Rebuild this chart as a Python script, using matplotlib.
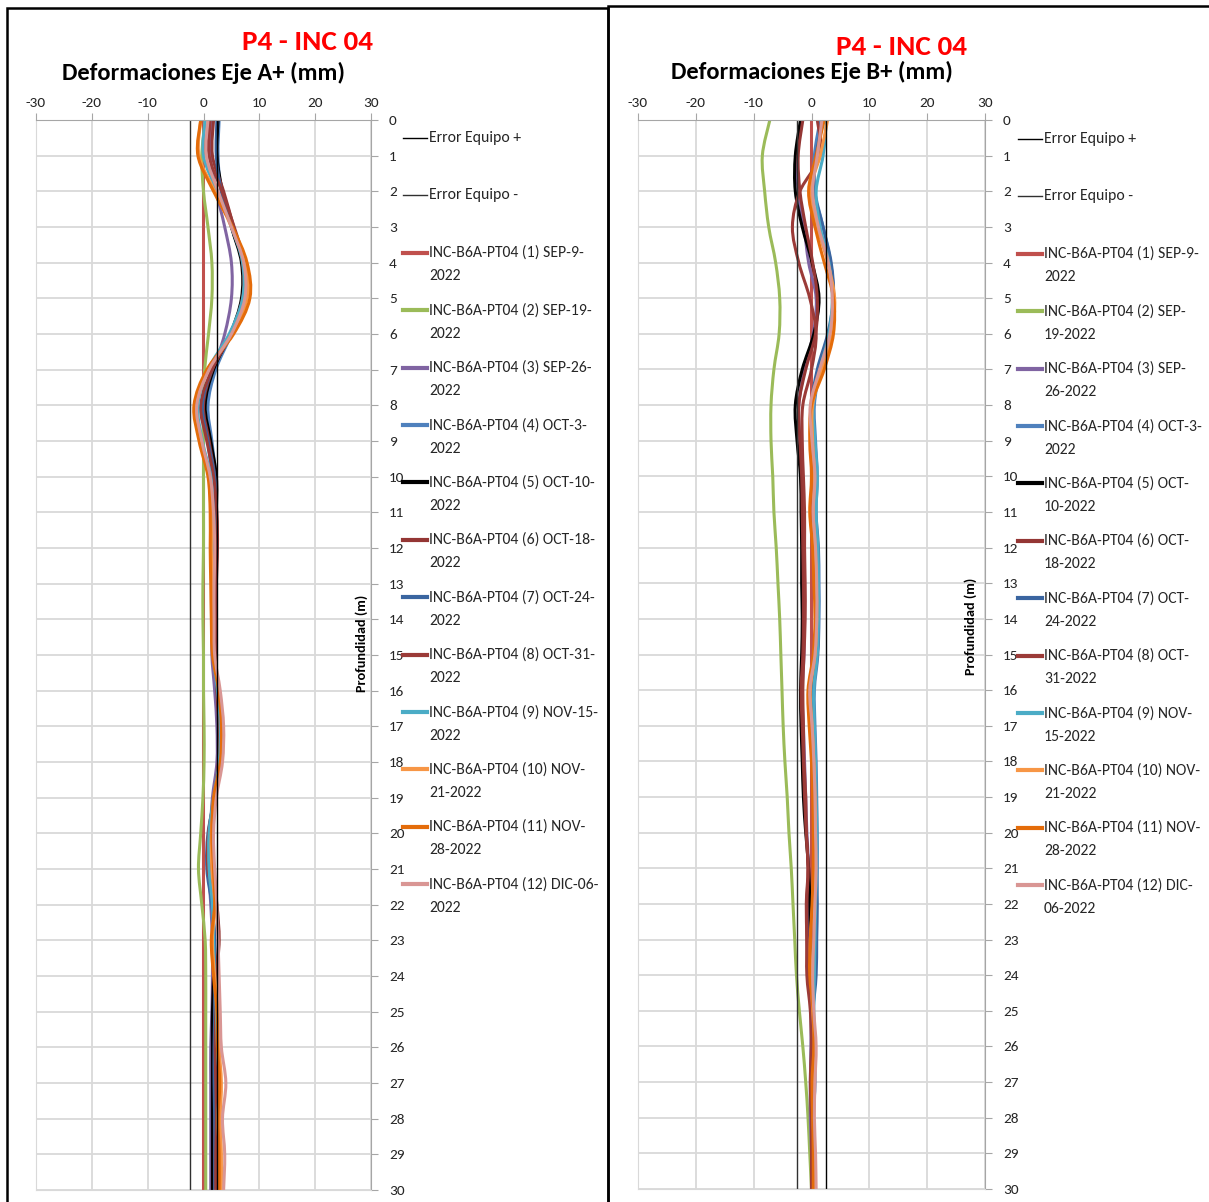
import matplotlib
matplotlib.use('Agg')
import matplotlib.pyplot as plt
from matplotlib import font_manager
from matplotlib.path import Path
from matplotlib.patches import PathPatch, Rectangle
from matplotlib.lines import Line2D

installed = {f.name for f in font_manager.fontManager.ttflist}
family = 'DejaVu Sans'
for cand in ['Carlito', 'Liberation Sans Narrow', 'DejaVu Sans Condensed', 'Lato']:
    if cand in installed:
        family = cand
        break
plt.rcParams['font.family'] = [family, 'DejaVu Sans']
plt.rcParams['axes.unicode_minus'] = False

W, H = 1209, 1202

# ---- data -------------------------------------------------------------
depth = list(range(31))
error_plus = 2.5
error_minus = -2.5

labels_a = ['INC-B6A-PT04 (1) SEP-9-\n2022', 'INC-B6A-PT04 (2) SEP-19-\n2022',
            'INC-B6A-PT04 (3) SEP-26-\n2022', 'INC-B6A-PT04 (4) OCT-3-\n2022',
            'INC-B6A-PT04 (5) OCT-10-\n2022', 'INC-B6A-PT04 (6) OCT-18-\n2022',
            'INC-B6A-PT04 (7) OCT-24-\n2022', 'INC-B6A-PT04 (8) OCT-31-\n2022',
            'INC-B6A-PT04 (9) NOV-15-\n2022', 'INC-B6A-PT04 (10) NOV-\n21-2022',
            'INC-B6A-PT04 (11) NOV-\n28-2022', 'INC-B6A-PT04 (12) DIC-06-\n2022']
labels_b = ['INC-B6A-PT04 (1) SEP-9-\n2022', 'INC-B6A-PT04 (2) SEP-\n19-2022',
            'INC-B6A-PT04 (3) SEP-\n26-2022', 'INC-B6A-PT04 (4) OCT-3-\n2022',
            'INC-B6A-PT04 (5) OCT-\n10-2022', 'INC-B6A-PT04 (6) OCT-\n18-2022',
            'INC-B6A-PT04 (7) OCT-\n24-2022', 'INC-B6A-PT04 (8) OCT-\n31-2022',
            'INC-B6A-PT04 (9) NOV-\n15-2022', 'INC-B6A-PT04 (10) NOV-\n21-2022',
            'INC-B6A-PT04 (11) NOV-\n28-2022', 'INC-B6A-PT04 (12) DIC-\n06-2022']

colors = ['#C0504D', '#9BBB59', '#8064A2', '#4F81BD', '#000000', '#943634',
          '#3A65A0', '#9B3B38', '#4BACC6', '#F79646', '#E46C0A', '#D99694']

# Eje A+ (mm), one value per metre of depth
a1 = [0.0] * 31
a2 = [0.3, -0.3, 0.0, 0.8, 1.5, 1.5, 0.9, 0.2, -0.1, 0.0, 0.0, 0.0, 0.0, -0.1, -0.1, 0.0,
      0.0, 0.1, 0.1, -0.1, -0.5, -0.9, -0.3, 0.3, 0.4, 0.4, 0.4, 0.4, 0.4, 0.4, 0.4]
a3 = [1.5, 1.2, 2.3, 3.8, 5.0, 5.0, 3.8, 1.8, 0.3, 0.8, 1.5, 1.6, 1.5, 1.5, 1.5, 1.5,
      2.0, 2.4, 2.4, 1.6, 1.2, 1.0, 1.3, 1.6, 1.6, 1.5, 1.3, 1.3, 1.3, 1.3, 1.3]
a4 = [2.8, 2.6, 3.2, 5.0, 7.0, 7.3, 5.0, 2.2, 0.8, 1.5, 2.2, 2.3, 2.2, 2.0, 2.0, 2.1,
      2.6, 3.0, 3.0, 2.0, 1.0, 0.8, 1.5, 2.0, 2.1, 2.2, 2.2, 2.3, 2.4, 2.4, 2.5]
a5 = [2.6, 2.4, 3.4, 5.0, 6.8, 6.8, 4.8, 1.8, 0.3, 1.3, 2.3, 2.3, 2.0, 2.0, 2.0, 2.0,
      2.5, 2.8, 2.8, 2.0, 1.6, 1.6, 1.8, 1.8, 1.8, 1.6, 1.6, 1.6, 1.6, 1.6, 1.6]
a6 = [1.8, 1.6, 3.6, 5.4, 7.0, 7.0, 4.8, 1.6, 0.0, 1.0, 2.0, 2.2, 2.4, 2.2, 2.2, 2.2,
      2.4, 2.8, 2.7, 2.0, 1.2, 1.5, 2.4, 2.8, 2.3, 2.0, 2.0, 2.0, 2.0, 2.0, 2.0]
a7 = [2.4, 2.3, 3.2, 5.2, 7.2, 7.2, 4.8, 1.5, -0.2, 0.8, 2.0, 2.2, 2.0, 2.0, 2.0, 2.0,
      2.5, 2.9, 2.9, 2.0, 0.8, 0.6, 1.5, 2.0, 2.0, 2.0, 1.9, 1.9, 2.0, 2.0, 2.0]
a8 = [1.2, 1.0, 3.3, 5.5, 7.3, 7.3, 5.0, 1.5, -0.5, 0.6, 1.8, 2.4, 2.5, 2.3, 2.2, 2.1,
      2.5, 2.7, 2.7, 1.9, 0.9, 0.8, 2.2, 2.7, 2.2, 2.2, 2.1, 2.2, 2.3, 2.2, 2.2]
a9 = [0.3, 0.0, 2.4, 5.0, 7.0, 7.0, 4.6, 0.8, -1.0, -0.2, 1.3, 1.6, 1.5, 1.5, 1.6, 1.7,
      2.5, 3.0, 2.8, 1.8, 1.0, 1.0, 1.6, 1.8, 2.0, 2.3, 2.5, 2.8, 2.6, 2.8, 2.8]
a10 = [-0.5, -0.8, 2.0, 5.0, 7.5, 7.8, 5.2, 0.8, -1.5, -0.6, 1.0, 1.4, 1.4, 1.5, 1.6, 1.8,
       2.8, 3.4, 3.2, 2.0, 1.4, 1.5, 2.0, 1.6, 2.0, 2.6, 2.8, 3.2, 3.0, 3.2, 3.2]
a11 = [-0.5, -1.0, 1.8, 5.2, 7.8, 8.3, 5.4, 0.6, -1.7, -0.8, 0.8, 1.2, 1.2, 1.3, 1.4, 1.6,
       2.7, 3.2, 3.0, 1.8, 1.5, 1.8, 2.0, 1.4, 1.8, 2.4, 2.5, 2.9, 2.6, 2.8, 2.8]
a12 = [0.8, 0.5, 2.6, 5.0, 7.2, 7.4, 5.0, 1.0, -1.2, -0.3, 1.2, 1.8, 2.0, 1.9, 1.9, 2.0,
       3.0, 3.6, 3.4, 2.3, 1.8, 2.0, 2.4, 2.6, 2.8, 3.0, 3.2, 4.0, 3.4, 3.8, 3.6]

# Eje B+ (mm)
b1 = [0.0] * 31
b2 = [-7.2, -8.5, -8.1, -7.4, -6.2, -5.5, -5.6, -6.5, -7.0, -7.0, -6.7, -6.5, -6.1, -5.8,
      -5.5, -5.3, -5.1, -4.9, -4.6, -4.2, -3.9, -3.5, -3.2, -2.9, -2.6, -2.1, -1.5, -1.0,
      -0.6, -0.3, 0.0]
b3 = [-1.8, -2.5, -2.3, -1.3, -0.5, 0.8, 0.3, -1.2, -2.2, -2.0, -1.6, -1.5, -1.3, -1.2,
      -1.2, -1.3, -1.6, -1.4, -1.2, -1.0, -0.8, -0.5, -0.5, -0.4, -0.3, -0.1, -0.1, -0.2,
      -0.2, 0.0, 0.0]
b4 = [1.5, 0.5, 0.6, 2.0, 3.3, 3.8, 3.0, 1.5, 0.5, 0.7, 1.0, 0.8, 1.2, 1.3, 1.3, 1.1,
      0.5, 0.6, 0.8, 0.9, 1.0, 1.0, 0.8, 0.6, 0.6, 0.3, 0.6, 0.3, 0.2, 0.4, 0.4]
b5 = [-1.9, -2.8, -2.8, -1.6, 0.1, 1.3, 0.4, -1.6, -2.8, -2.5, -1.9, -1.8, -1.7, -1.7,
      -1.6, -1.7, -1.9, -1.8, -1.6, -1.4, -1.0, -0.5, -0.3, -0.2, -0.1, 0.0, 0.0, 0.0,
      0.1, 0.1, 0.1]
b6 = [-1.5, -2.3, -2.0, -1.0, 0.2, 1.0, 0.7, -1.0, -2.2, -2.0, -1.7, -1.6, -1.5, -1.4,
      -1.4, -1.5, -1.8, -1.6, -1.4, -1.2, -0.9, -0.6, -0.8, -0.8, -0.6, -0.1, 0.0, -0.1,
      0.0, 0.1, 0.1]
b7 = [2.0, 0.8, 0.5, 2.0, 3.4, 3.8, 2.8, 1.0, 0.0, 0.3, 0.8, 0.7, 1.1, 1.2, 1.2, 1.0,
      0.3, 0.4, 0.6, 0.8, 0.8, 0.9, 1.0, 0.9, 0.8, 0.3, 0.4, 0.6, 0.3, 0.3, 0.3]
b8 = [1.0, 1.5, -2.0, -3.3, -2.2, -0.3, 0.8, 0.0, -1.5, -1.6, -1.4, -1.2, -1.2, -1.1,
      -1.1, -1.3, -1.5, -1.4, -1.3, -1.0, -0.9, -0.6, -0.9, -0.8, -0.8, -0.2, 0.0, -0.2,
      0.0, 0.0, 0.0]
b9 = [2.6, 2.0, 0.8, 1.5, 3.0, 3.6, 3.0, 1.5, 0.3, 0.6, 1.0, 0.8, 1.1, 1.2, 1.2, 1.0,
      0.4, 0.5, 0.7, 0.8, 0.9, 0.9, 0.7, 0.6, 0.5, 0.4, 0.6, 0.5, 0.3, 0.5, 0.5]
b10 = [2.8, 1.5, -0.2, 1.0, 2.8, 4.0, 3.5, 1.8, 0.2, 0.2, 0.5, 0.3, 0.6, 0.8, 0.9, 0.6,
       -0.2, 0.1, 0.4, 0.6, 0.6, 0.4, 0.2, -0.2, -0.1, 0.2, 0.5, 0.2, 0.3, 0.4, 0.4]
b11 = [2.2, 0.8, -0.5, 0.6, 2.2, 3.8, 3.8, 2.2, 0.0, -0.3, 0.0, -0.3, 0.2, 0.4, 0.6, 0.3,
       -0.6, -0.4, 0.0, 0.2, 0.3, 0.3, 0.1, -0.2, -0.3, 0.3, 0.4, 0.1, 0.2, 0.3, 0.3]
b12 = [1.8, 1.0, 0.2, 1.2, 2.9, 3.6, 3.2, 1.4, -0.2, 0.1, 0.6, 0.3, 0.7, 0.9, 0.9, 0.6,
       -0.3, 0.1, 0.4, 0.6, 0.7, 0.8, 0.6, 0.4, 0.2, 0.4, 0.8, 0.6, 0.5, 0.7, 0.8]

series_a = [a1, a2, a3, a4, a5, a6, a7, a8, a9, a10, a11, a12]
series_b = [b1, b2, b3, b4, b5, b6, b7, b8, b9, b10, b11, b12]


def smooth_path(xs, ys):
    # Excel-like "smoothed line": Catmull-Rom segments as cubic Beziers
    n = len(xs)
    verts = [(xs[0], ys[0])]
    codes = [Path.MOVETO]
    for i in range(n - 1):
        i0, i2, i3 = max(i - 1, 0), i + 1, min(i + 2, n - 1)
        c1 = (xs[i] + (xs[i2] - xs[i0]) / 6.0, ys[i] + (ys[i2] - ys[i0]) / 6.0)
        c2 = (xs[i2] - (xs[i3] - xs[i]) / 6.0, ys[i2] - (ys[i3] - ys[i]) / 6.0)
        verts += [c1, c2, (xs[i2], ys[i2])]
        codes += [Path.CURVE4] * 3
    return Path(verts, codes)


def fx(x):
    return x / W


def fy(y):
    return 1 - y / H


fig = plt.figure(figsize=(W / 100, H / 100), dpi=100)
renderer = fig.canvas.get_renderer()


def fit_size(s, target_w, weight='normal', base=20.0):
    # font size giving the text the pixel width it has in the reference
    t = fig.text(0, 0, s, fontsize=base, fontweight=weight)
    w = t.get_window_extent(renderer).width
    t.remove()
    return base * target_w / w


title_size = fit_size('P4 - INC 04', 131, 'bold')
sub_size = fit_size('Deformaciones Eje A+ (mm)', 284, 'bold')
leg_size = fit_size('INC-B6A-PT04 (1) SEP-9-', 146) * 1.06
ylab_size = fit_size('Profundidad (m)', 97, 'bold')
tick_size = 11

# panel frames
fig.patches.append(Rectangle((fx(7), fy(1210)), 601 / W, (1210 - 8) / H,
                             transform=fig.transFigure, fill=False, ec='black', lw=1.8))
fig.patches.append(Rectangle((fx(608), fy(1210)), 610 / W, (1210 - 6) / H,
                             transform=fig.transFigure, fill=False, ec='black', lw=1.8))

panels = [
    dict(box=[36, 120, 371, 1190], data=series_a, labels=labels_a,
         title_x=307, title_y=42, sub='Deformaciones Eje A+ (mm)', sub_x=203, sub_y=73,
         ylab_x=362, ylab_y=643, leg_x=403, leg_y=138),
    dict(box=[638, 120, 985, 1189], data=series_b, labels=labels_b,
         title_x=902, title_y=47, sub='Deformaciones Eje B+ (mm)', sub_x=812, sub_y=72,
         ylab_x=971, ylab_y=626, leg_x=1018, leg_y=139),
]

for p in panels:
    x0, y0, x1, y1 = p['box']
    ax = fig.add_axes([fx(x0), fy(y1), (x1 - x0) / W, (y1 - y0) / H])
    ax.set_xlim(-30, 30)
    ax.set_ylim(30, 0)
    ax.xaxis.tick_top()
    ax.yaxis.tick_right()
    ax.set_xticks(range(-30, 31, 10))
    ax.set_yticks(range(0, 31))
    ax.grid(True, color='#D9D9D9', lw=1.3)
    ax.set_axisbelow(True)
    for side in ['left', 'bottom']:
        ax.spines[side].set_color('#D9D9D9')
    for side in ['top', 'right']:
        ax.spines[side].set_color('#A6A6A6')
    ax.tick_params(direction='out', length=5, color='#A6A6A6', labelsize=tick_size,
                   labelcolor='#262626', pad=3)
    ax.tick_params(axis='y', pad=8)

    ax.plot([error_plus] * len(depth), depth, color='black', lw=1.0)
    ax.plot([error_minus] * len(depth), depth, color='#303030', lw=1.0)
    for vals, c in zip(p['data'], colors):
        ax.add_patch(PathPatch(smooth_path(vals, depth), fill=False, ec=c, lw=2.2))

    fig.text(fx(p['ylab_x']), fy(p['ylab_y']), 'Profundidad (m)', rotation=90,
             ha='center', va='center', fontsize=ylab_size, fontweight='bold')
    fig.text(fx(p['title_x']), fy(p['title_y']), 'P4 - INC 04', color='#FF0000',
             fontsize=title_size, fontweight='bold', ha='center', va='center')
    fig.text(fx(p['sub_x']), fy(p['sub_y']), p['sub'], color='black',
             fontsize=sub_size, fontweight='bold', ha='center', va='center')

    # legend (Excel style, one entry every ~57 px)
    names = ['Error Equipo +', 'Error Equipo -'] + p['labels']
    lcolors = ['black', '#303030'] + colors
    lwidths = [1.0, 1.0] + [3.0] * 12
    for i, (name, c, lw) in enumerate(zip(names, lcolors, lwidths)):
        yy = p['leg_y'] + 57.4 * i
        fig.add_artist(Line2D([fx(p['leg_x']), fx(p['leg_x'] + 24)], [fy(yy), fy(yy)],
                              transform=fig.transFigure, color=c, lw=lw))
        fig.text(fx(p['leg_x'] + 26), fy(yy - 7), name, ha='left', va='top',
                 fontsize=leg_size, color='#262626', linespacing=1.85)

fig.savefig('out.png', dpi=100)
